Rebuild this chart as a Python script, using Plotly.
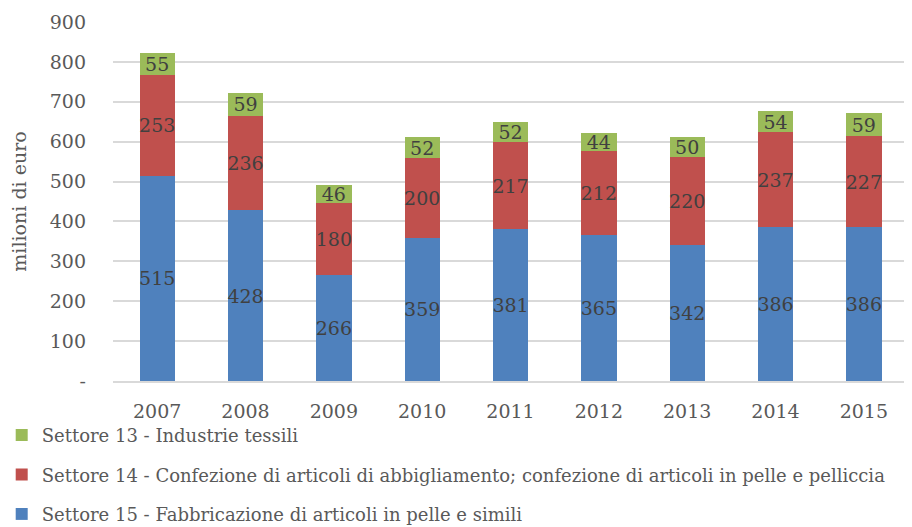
import plotly.graph_objects as go

anni = ["2007", "2008", "2009", "2010", "2011", "2012", "2013", "2014", "2015"]
settore_15 = [515, 428, 266, 359, 381, 365, 342, 386, 386]
settore_14 = [253, 236, 180, 200, 217, 212, 220, 237, 227]
settore_13 = [55, 59, 46, 52, 52, 44, 50, 54, 59]

nomi = [
    "Settore 15 - Fabbricazione di articoli in pelle e simili",
    "Settore 14 - Confezione di articoli di abbigliamento; confezione di articoli in pelle e pelliccia",
    "Settore 13 - Industrie tessili",
]
colori = ["#4F81BD", "#C0504D", "#9BBB59"]

font_fam = "DejaVu Serif"

fig = go.Figure()
for i, (nome, valori) in enumerate(zip(nomi, [settore_15, settore_14, settore_13])):
    fig.add_trace(go.Bar(
        x=anni, y=valori, name=nome,
        marker=dict(color=colori[i], line=dict(width=0)),
        text=valori, textposition="inside", insidetextanchor="middle",
        textangle=0, constraintext="none",
        textfont=dict(family=font_fam, size=19, color="#404040"),
        legendgroup=str(i), legendrank=3 - i,
    ))

# la pagina ha un margine di 8px attorno al grafico
fig.update_layout(
    barmode="stack", bargap=0.6,
    width=904, height=519,
    margin=dict(l=105, r=4, t=14, b=146, autoexpand=False),
    plot_bgcolor="white", paper_bgcolor="white",
    font=dict(family=font_fam, color="#595959"),
    legend=dict(
        orientation="v", traceorder="grouped", tracegroupgap=13,
        x=-0.14, xanchor="left", y=-0.1, yanchor="top",
        bgcolor="rgba(0,0,0,0)",
        font=dict(size=18, color="#595959"),
        itemwidth=30,
    ),
    yaxis=dict(
        range=[0, 900], tickvals=list(range(0, 1000, 100)),
        ticktext=["-"] + [str(v) for v in range(100, 1000, 100)],
        showgrid=True, gridcolor="#D9D9D9", gridwidth=1.5,
        zeroline=False, showline=False,
        tickfont=dict(size=19, color="#595959"),
        ticklabelstandoff=26,
        title=dict(text="milioni di euro", font=dict(size=19, color="#595959"), standoff=26),
    ),
    xaxis=dict(
        showline=True, linecolor="#D9D9D9", linewidth=1.5,
        tickfont=dict(size=19, color="#595959"),
        ticklabelstandoff=12,
    ),
)

fig.write_html("out.html")
